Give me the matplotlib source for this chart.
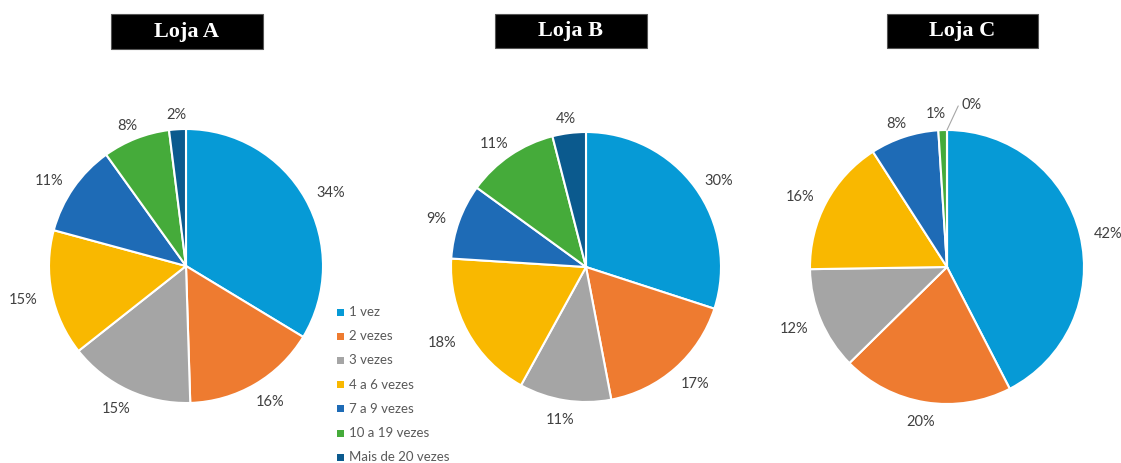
import matplotlib
matplotlib.use("Agg")
import matplotlib.pyplot as plt
from matplotlib.patches import Rectangle
import numpy as np

W, H = 1121, 463

categories = ["1 vez", "2 vezes", "3 vezes", "4 a 6 vezes", "7 a 9 vezes",
              "10 a 19 vezes", "Mais de 20 vezes"]
colors = ["#069AD6", "#EE7B30", "#A5A5A5", "#F9B800", "#1E6BB6", "#45AB3A", "#0B5A8E"]

loja_a = [34, 16, 15, 15, 11, 8, 2]
loja_b = [30, 17, 11, 18, 9, 11, 4]
loja_c = [42, 20, 12, 16, 8, 1, 0]

titles = ["Loja A", "Loja B", "Loja C"]

fig = plt.figure(figsize=(W / 100, H / 100), dpi=100)
fig.patch.set_facecolor("white")

label_font = dict(family="Lato", fontsize=10.5, color="#404040")

# pie centres (px from left / top) and radius in px
centres = [(186, 266), (586, 267), (947, 267)]
radii = [137, 135, 137]
half = 175

title_boxes = [(111, 14, 152, 35), (495, 14, 152, 34), (887, 14, 151, 34)]

GAP = 11       # px between pie edge and label box
BOX_H = 12     # label box height, px
SPREAD = 1.5   # horizontal push of labels away from the pie
DROP = 3       # text baseline sits slightly low in its box, px


def text_width(s):
    return 7.2 * sum(ch.isdigit() for ch in s) + 10


for i, (vals, (cx, cy), r) in enumerate(zip([loja_a, loja_b, loja_c], centres, radii)):
    ax = fig.add_axes([(cx - half) / W, 1 - (cy + half) / H, 2 * half / W, 2 * half / H])
    wedges, _ = ax.pie(vals, colors=colors, startangle=90, counterclock=False,
                       radius=1.0, wedgeprops=dict(edgecolor="white", linewidth=1.5))
    lim = half / r
    ax.set_xlim(-lim, lim)
    ax.set_ylim(-lim, lim)
    ax.set_aspect("equal")
    ax.axis("off")

    total = sum(vals)
    cum = 0
    for j, v in enumerate(vals):
        mid = (cum + v / 2) / total * 2 * np.pi
        cum += v
        if v == 0:
            continue
        label = f"{v}%"
        dx, dy = np.sin(mid), np.cos(mid)
        w = text_width(label)
        px = r * dx + dx * GAP + dx * SPREAD * w / 2
        py = r * dy + dy * GAP + dy * BOX_H / 2 - DROP
        if i == 2 and j == 5:
            px, py = -11, 153
        ax.text(px / r, py / r, label, ha="center", va="center", **label_font)
    if i == 2:
        # zero-share slice label with leader line
        ax.annotate(f"{vals[6]}%", xy=(0.0, 1.0), xytext=(14 / r, 162 / r),
                    ha="left", va="center", **label_font,
                    arrowprops=dict(arrowstyle="-", color="#A6A6A6", lw=0.8,
                                    shrinkA=0, shrinkB=0,
                                    connectionstyle="angle,angleA=0,angleB=65,rad=0"))

# title boxes
for (x0, y0, w, h), t in zip(title_boxes, titles):
    fig.patches.append(Rectangle((x0 / W, 1 - (y0 + h) / H), w / W, h / H,
                                 transform=fig.transFigure, facecolor="black",
                                 edgecolor="#555555", linewidth=0.8))
    fig.text((x0 + w / 2) / W, 1 - (y0 + h / 2) / H, t, ha="center", va="center",
             family="Liberation Serif", fontweight="bold", fontsize=16, color="white")

# legend
leg_y0, leg_dy = 312, 24.2
for k, (c, name) in enumerate(zip(colors, categories)):
    y = leg_y0 + k * leg_dy
    fig.patches.append(Rectangle((337 / W, 1 - (y + 3.5) / H), 7 / W, 7 / H,
                                 transform=fig.transFigure, facecolor=c, edgecolor="none"))
    fig.text(349 / W, 1 - y / H, name, ha="left", va="center",
             family="Lato", fontsize=9.5, color="#595959")

fig.savefig("out.png", dpi=100)
